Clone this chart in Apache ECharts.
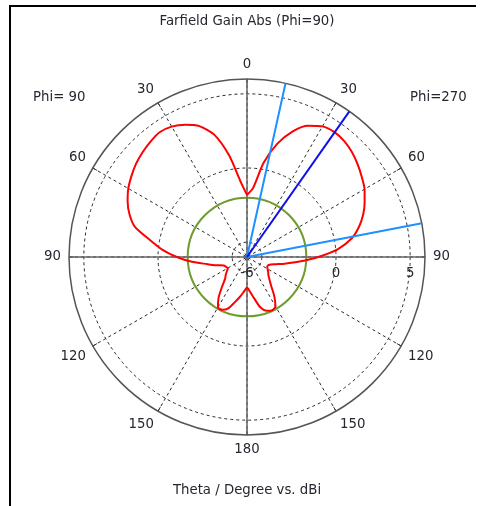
<!DOCTYPE html>
<html><head><meta charset="utf-8">
<script src="https://cdn.jsdelivr.net/npm/echarts@6/dist/echarts.min.js"></script>
<style>
html,body{margin:0;padding:0;background:#fff;}
#c{width:484px;height:506px;position:absolute;left:0;top:0;}
#frame{position:absolute;left:9px;top:5px;width:465px;height:520px;border-top:2px solid #000;border-left:2px solid #000;pointer-events:none;}
</style>
</head><body>
<div id="c"></div><div id="frame"></div>
<script>
// Theta samples (degrees) for both half-planes
const thetaDeg = [0,5,10,15,20,25,30,35,40,45,50,55,60,65,70,75,80,85,90,95,100,105,110,115,120,125,130,135,140,145,150,155,160,165,170,175,180];
// Gain (dBi) on the Phi=270 side (drawn on the right)
const gainPhi270 = [-1.81,-1.34,0.45,1.91,3.02,3.77,4.17,4.28,4.20,4.00,3.73,3.44,3.15,2.75,2.33,1.81,1.16,0.16,-1.20,-2.44,-3.42,-4.11,-4.43,-4.49,-4.40,-4.26,-4.12,-3.86,-3.47,-2.80,-2.16,-2.03,-2.14,-2.47,-3.15,-3.65,-3.94];
// Gain (dBi) on the Phi=90 side (drawn on the left)
const gainPhi90 = [-1.81,-0.86,0.96,2.54,3.39,3.83,4.15,4.27,4.14,3.97,3.77,3.51,3.24,2.88,2.43,1.82,0.66,-0.26,-1.27,-2.28,-3.25,-3.84,-4.33,-4.44,-4.51,-4.35,-4.13,-3.91,-3.38,-2.66,-2.08,-2.07,-2.31,-2.85,-3.28,-3.66,-3.94];
// Main lobe direction and 3 dB angular width edges (theta, Phi=270 side)
const mainLobeTheta = 35.1;
const beamEdgeTheta = [12.5, 79.1];
// Reference level circle (dBi)
const refLevel = -2;
// Radial axis
const radialMin = -6, radialMax = 6;
const radialTicks = [-6,-5,-4,-3,-2,-1,0,1,2,3,4,5,6];
const radialLabels = [-6, 0, 5];
const dashedRings = [-5, 0, 5];
// Texts
const titleText = 'Farfield Gain Abs (Phi=90)';
const leftText = 'Phi= 90';
const rightText = 'Phi=270';
const axisTitle = 'Theta / Degree vs. dBi';

const FONT = 'DejaVu Sans';
const TXT = '#262630';
const FS = 13.3;
const CLEAR = 'rgba(0,0,0,0)';

// display theta (clockwise from top) -> angle-axis value (0 at right, clockwise)
function toAngle(t){ return ((t + 270) % 360 + 360) % 360; }

const curve = [];
thetaDeg.forEach((t, i) => curve.push([gainPhi270[i], toAngle(t)]));
for (let i = thetaDeg.length - 1; i >= 0; i--) curve.push([gainPhi90[i], toAngle(360 - thetaDeg[i])]);

const dashedColors = radialTicks.map(v => dashedRings.indexOf(v) >= 0 ? '#2a2a2a' : CLEAR);
const refColors = radialTicks.map(v => v === refLevel ? '#6e9b2c' : CLEAR);

const chart = echarts.init(document.getElementById('c'), null, {renderer: 'canvas'});
const center = [247, 257], R = 178;
const ts = {fontSize: FS, fontWeight: 'normal', color: TXT, fontFamily: FONT};

chart.setOption({
  animation: false,
  backgroundColor: '#fff',
  title: [
    {text: titleText, left: 247, top: 15, textAlign: 'center', padding: 0, textStyle: ts},
    {text: leftText, left: 33, top: 91, padding: 0, textStyle: ts},
    {text: rightText, left: 410, top: 91, padding: 0, textStyle: ts},
    {text: axisTitle, left: 247, top: 484, textAlign: 'center', padding: 0, textStyle: ts}
  ],
  polar: [{center: center, radius: R}, {center: center, radius: R}],
  angleAxis: [
    {
      polarIndex: 0, type: 'value', min: 0, max: 360, interval: 30, startAngle: 0, clockwise: true,
      axisLine: {lineStyle: {color: '#555', width: 1.5}},
      axisTick: {show: true, inside: true, length: 5, lineStyle: {color: '#444'}},
      axisLabel: {
        margin: 8, fontSize: FS, fontFamily: FONT, color: TXT,
        formatter: v => { if (v >= 360) return ''; const d = (v + 90) % 360; return String(d <= 180 ? d : 360 - d); }
      },
      splitLine: {show: true, lineStyle: {color: '#2a2a2a', width: 1, type: [3, 3]}}
    },
    {
      polarIndex: 1, type: 'value', min: 0, max: 360, interval: 30, startAngle: 0, clockwise: true,
      axisLine: {show: false}, axisTick: {show: false}, axisLabel: {show: false},
      splitLine: {show: true, lineStyle: {color: ['#666', CLEAR, CLEAR], width: 1.5, type: 'solid'}}
    }
  ],
  radiusAxis: [
    {
      polarIndex: 0, type: 'value', min: radialMin, max: radialMax, interval: 1,
      axisLine: {show: false}, axisTick: {show: false},
      axisLabel: {
        margin: -17, verticalAlign: 'middle', fontSize: FS, fontFamily: FONT, color: TXT,
        formatter: v => radialLabels.indexOf(v) >= 0 ? String(v) : ''
      },
      splitLine: {show: true, lineStyle: {color: dashedColors, width: 1, type: [3, 3]}}
    },
    {
      polarIndex: 1, type: 'value', min: radialMin, max: radialMax, interval: 1,
      axisLine: {show: false}, axisTick: {show: false}, axisLabel: {show: false},
      splitLine: {show: true, lineStyle: {color: refColors, width: 2, type: 'solid'}}
    }
  ],
  series: [
    {
      type: 'line', coordinateSystem: 'polar', polarIndex: 0, data: curve,
      symbol: 'none', smooth: 0.25, silent: true, z: 5,
      lineStyle: {color: '#ff0000', width: 2}
    },
    {
      type: 'line', coordinateSystem: 'polar', polarIndex: 0,
      data: [[radialMax, toAngle(beamEdgeTheta[0])], [radialMin, 0], [radialMax, toAngle(beamEdgeTheta[1])]],
      symbol: 'none', silent: true, z: 6,
      lineStyle: {color: '#1e90ff', width: 2}
    },
    {
      type: 'line', coordinateSystem: 'polar', polarIndex: 0,
      data: [[radialMin, 0], [radialMax, toAngle(mainLobeTheta)]],
      symbol: 'none', silent: true, z: 7,
      lineStyle: {color: '#1010e8', width: 2}
    }
  ]
});
</script>
</body></html>
